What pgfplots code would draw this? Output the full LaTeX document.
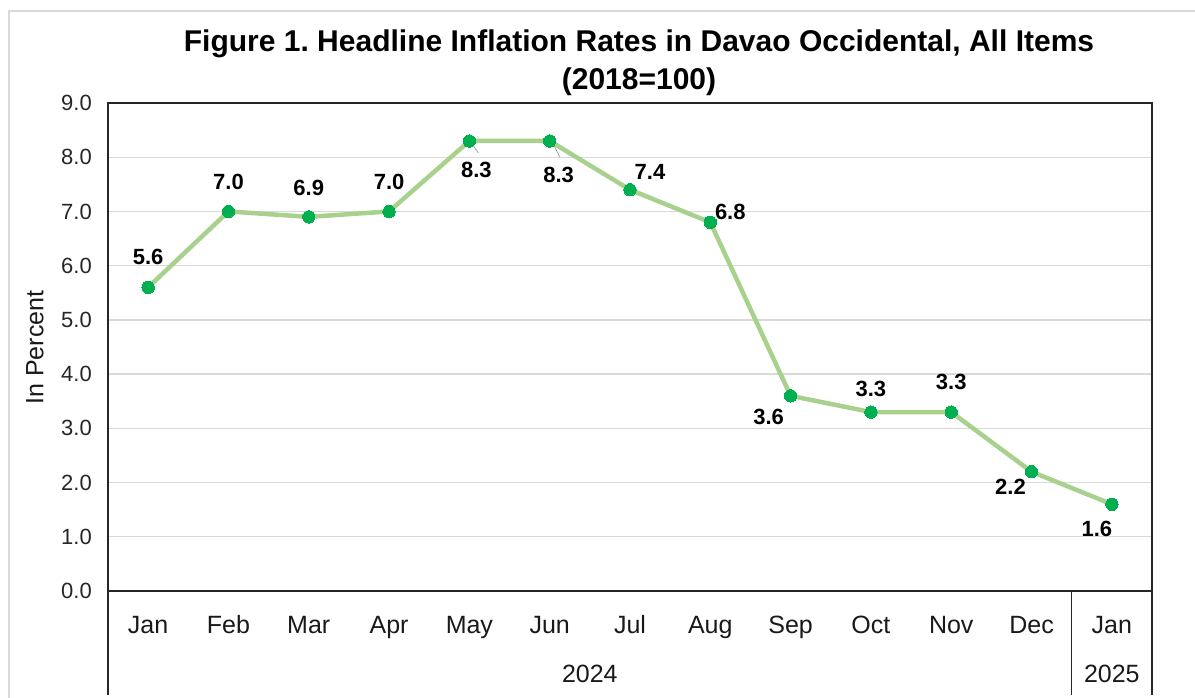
\documentclass[border=0pt]{standalone}
\usepackage{pgfplots}
\pgfplotsset{compat=1.18}
\usepackage{pgfplotstable}
\usepackage{fontspec}
\setmainfont{Liberation Sans}
\frenchspacing
\definecolor{linegreen}{HTML}{A9D18E}
\definecolor{dotgreen}{HTML}{00B050}
\definecolor{gridgray}{HTML}{D9D9D9}
\definecolor{framegray}{HTML}{D9D9D9}
\definecolor{axisdark}{HTML}{262626}

\pgfplotstableread{
x y dx dy
0 5.6 0 30
1 7.0 0 30
2 6.9 0 29
3 7.0 0 30
4 8.3 7 -29
5 8.3 9 -34
6 7.4 20 18
7 6.8 20 10
8 3.6 -22 -21
9 3.3 0 23
10 3.3 0 30
11 2.2 -21 -15
12 1.6 -15 -25
}\datatable

\begin{document}
\begin{tikzpicture}
\useasboundingbox (0pt,0pt) rectangle (1195pt,697pt);
\draw[framegray, line width=1.5pt] (9pt,-5pt) -- (9pt,686pt) -- (1200pt,686pt);
\begin{axis}[
  at={(108pt,106pt)}, anchor=south west,
  scale only axis, width=1044pt, height=488pt,
  xmin=-0.5, xmax=12.5, ymin=0, ymax=9,
  clip=false,
  axis line style={axisdark, line width=1.3pt},
  ytick={0,1,...,9},
  ymajorgrids, grid style={gridgray, line width=1.3pt},
  major tick length=0pt,
  yticklabel style={font=\fontsize{22}{24}\selectfont, color=black!85, anchor=east, inner sep=0pt, xshift=-16pt,
    /pgf/number format/.cd, fixed, fixed zerofill, precision=1, assume math mode=true},
  xtick={0,...,12},
  xticklabels={Jan,Feb,Mar,Apr,May,Jun,Jul,Aug,Sep,Oct,Nov,Dec,Jan},
  xticklabel style={font=\fontsize{25}{27}\selectfont, color=black!90, anchor=base, inner sep=0pt, yshift=-42pt},
]
\draw[gray!70, line width=0.8pt] (axis cs:4,8.3) ++(2pt,-2pt) -- ++(7pt,-10pt);
\draw[gray!70, line width=0.8pt] (axis cs:5,8.3) ++(3pt,-2pt) -- ++(7pt,-14pt);
\addplot[linegreen, line width=4.5pt, mark=*, mark size=6.2pt,
  mark options={fill=dotgreen, draw=dotgreen, line width=0pt},
  point meta=explicit,
  visualization depends on={\thisrow{dx}\as\dx},
  visualization depends on={\thisrow{dy}\as\dy},
  nodes near coords={\pgfmathprintnumber[fixed,fixed zerofill,precision=1,assume math mode=true]{\pgfplotspointmeta}},
  nodes near coords style={anchor=center, inner sep=0pt, black, font=\bfseries\fontsize{22}{24}\selectfont, xshift=\dx pt, yshift=\dy pt},
] table[x=x, y=y, meta=y] {\datatable};
\draw[axisdark, line width=1.3pt] (axis cs:-0.5,0) -- ++(0pt,-104pt);
\draw[axisdark, line width=1.3pt] (axis cs:11.5,0) -- ++(0pt,-104pt);
\draw[axisdark, line width=1.3pt] (axis cs:12.5,0) -- ++(0pt,-104pt);
\node[anchor=base, inner sep=0pt, font=\fontsize{25}{27}\selectfont, color=black!90] at (axis cs:5.5,0) [yshift=-91pt] {2024};
\node[anchor=base, inner sep=0pt, font=\fontsize{25}{27}\selectfont, color=black!90] at (axis cs:12,0) [yshift=-91pt] {2025};
\end{axis}
\node[rotate=90, inner sep=0pt, font=\fontsize{25}{27}\selectfont, color=black!90] at (35pt,349.5pt) {In Percent};
\node[anchor=base, inner sep=0pt, font=\bfseries\fontsize{30}{32}\selectfont] at (639pt,645pt) {Figure 1. Headline Inflation Rates in Davao Occidental, All Items};
\node[anchor=base, inner sep=0pt, font=\bfseries\fontsize{30}{32}\selectfont] at (639pt,607pt) {(2018=100)};
\end{tikzpicture}
\end{document}
